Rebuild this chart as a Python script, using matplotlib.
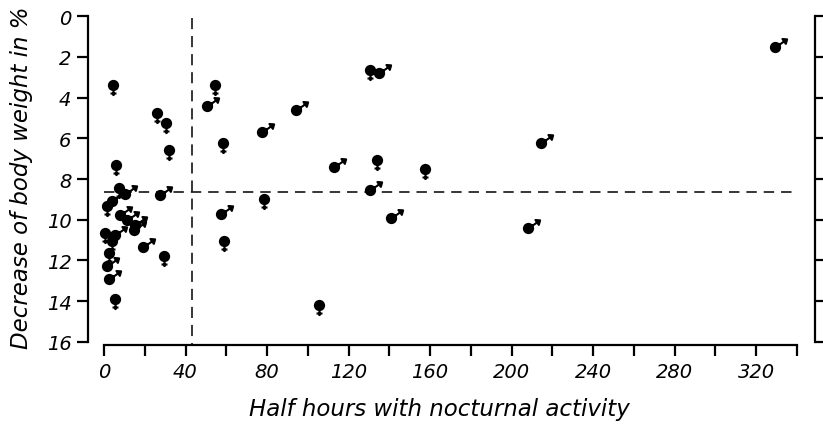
import numpy as np
import matplotlib
matplotlib.use("Agg")
import matplotlib.pyplot as plt
from matplotlib.path import Path

# data (x = half hours, y = % weight loss)
female_x = [4.6, 26.1, 30.2, 32.0, 5.9, 54.4, 58.5, 7.2, 1.5, 0.6, 3.9, 2.3,
            5.2, 29.3, 59.0, 78.5, 105.4, 130.7, 134.0, 157.7]
female_y = [3.4, 4.78, 5.24, 6.58, 7.32, 3.40, 6.22, 8.43, 9.34, 10.65, 11.05, 11.64,
            13.9, 11.8, 11.06, 8.98, 14.18, 2.64, 7.09, 7.50]

male_x = [50.3, 77.6, 94.4, 135.0, 112.9, 130.4, 140.8, 208.0, 214.5, 329.4,
          57.4, 10.5, 27.6, 4.0, 8.0, 11.3, 15.4, 14.5, 5.6, 19.0, 1.5, 2.3]
male_y = [4.42, 5.70, 4.63, 2.81, 7.40, 8.52, 9.91, 10.41, 6.22, 1.51,
          9.72, 8.76, 8.80, 9.1, 9.75, 10.0, 10.24, 10.5, 10.73, 11.34, 12.29, 12.92]

x_ticks = list(range(0, 341, 20))
x_labels = [str(t) if t % 40 == 0 else "" for t in x_ticks]
y_ticks = list(range(0, 17, 2))

limit_x = 43.1   # vertical dashed line
limit_y = 8.62   # horizontal dashed line

plt.rcParams["font.family"] = "DejaVu Sans"
plt.rcParams["font.style"] = "italic"
plt.rcParams["lines.scale_dashes"] = False


def sex_marker(kind):
    circle = Path.circle((0, 0), 1.0)
    if kind == "f":
        tail = Path([(0, -1.0), (0, -2.3), (-0.65, -1.75), (0.65, -1.75)],
                    [Path.MOVETO, Path.LINETO, Path.MOVETO, Path.LINETO])
    else:
        a = np.deg2rad(35)
        u = np.array([np.cos(a), np.sin(a)])
        p = np.array([-u[1], u[0]])
        tip = 3.1 * u
        b1 = 2.3 * u + 0.65 * p
        b2 = 2.3 * u - 0.65 * p
        tail = Path([0.9 * u, 2.5 * u, tip, b1, b2, tip],
                    [Path.MOVETO, Path.LINETO, Path.MOVETO, Path.LINETO,
                     Path.LINETO, Path.CLOSEPOLY])
    path = Path.make_compound_path(circle, tail)
    extent = np.abs(path.vertices).max()
    return path, extent


r_pt = 3.3  # circle radius in points

fig = plt.figure(figsize=(8.23, 4.39), dpi=100)
ax = fig.add_axes([88 / 823, 1 - 346 / 439, (815 - 88) / 823, (346 - 13) / 439])
ax.set_xlim(-7.85, 348.9)
ax.set_ylim(16.15, -0.2)

for xs, ys, kind in [(female_x, female_y, "f"), (male_x, male_y, "m")]:
    path, extent = sex_marker(kind)
    s = (2 * r_pt * extent) ** 2
    ax.scatter(xs, ys, marker=path, s=s, facecolors="black",
               edgecolors="black", linewidths=1.5, zorder=3)

ax.plot([limit_x, limit_x], [0.1, 16.15], color="black", lw=1.1,
        dashes=(8, 5), zorder=2)
ax.plot([0, 338], [limit_y, limit_y], color="black", lw=1.1,
        dashes=(7.5, 5), zorder=2)

for side in ["left", "bottom", "right"]:
    ax.spines[side].set_linewidth(1.6)
ax.spines["top"].set_visible(False)
ax.spines["left"].set_bounds(0, 16)
ax.spines["right"].set_bounds(0, 16)
ax.spines["bottom"].set_bounds(0, 340)

ax.set_xticks(x_ticks)
ax.set_xticklabels(x_labels)
ax.set_yticks(y_ticks)
ax.set_yticklabels([str(t) for t in y_ticks])
ax.tick_params(axis="both", direction="out", length=8, width=1.6,
               labelsize=14, pad=4)
ax.tick_params(axis="y", right=True, labelright=False)

fig.text(439 / 823, 1 - 410 / 439, "Half hours with nocturnal activity",
         ha="center", va="center", fontsize=16.5)
fig.text(22 / 823, 1 - 178 / 439, "Decrease of body weight in %",
         ha="center", va="center", rotation=90, fontsize=16.5)

fig.savefig("out.png", dpi=100)
